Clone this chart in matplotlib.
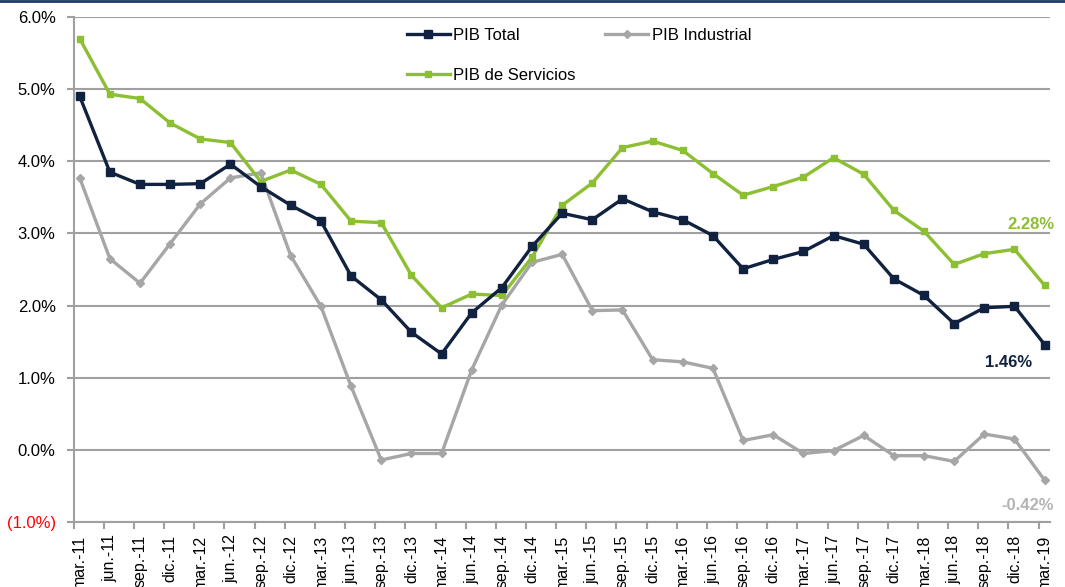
import numpy as np
import matplotlib
matplotlib.use("Agg")
import matplotlib.pyplot as plt
from matplotlib.ticker import FixedLocator

plt.rcParams['font.family'] = ['Liberation Sans', 'DejaVu Sans']

# Quarter labels
periods = ["mar.-11", "jun.-11", "sep.-11", "dic.-11",
           "mar.-12", "jun.-12", "sep.-12", "dic.-12",
           "mar.-13", "jun.-13", "sep.-13", "dic.-13",
           "mar.-14", "jun.-14", "sep.-14", "dic.-14",
           "mar.-15", "jun.-15", "sep.-15", "dic.-15",
           "mar.-16", "jun.-16", "sep.-16", "dic.-16",
           "mar.-17", "jun.-17", "sep.-17", "dic.-17",
           "mar.-18", "jun.-18", "sep.-18", "dic.-18",
           "mar.-19"]

# Annual growth (%)
pib_total = [4.90, 3.85, 3.68, 3.68, 3.69, 3.96, 3.65, 3.39,
             3.17, 2.41, 2.08, 1.63, 1.33, 1.90, 2.25, 2.82,
             3.28, 3.19, 3.48, 3.30, 3.19, 2.97, 2.51, 2.64,
             2.75, 2.97, 2.85, 2.37, 2.14, 1.75, 1.97, 1.99,
             1.46]
pib_industrial = [3.77, 2.65, 2.31, 2.86, 3.41, 3.77, 3.84, 2.69,
                  1.99, 0.88, -0.14, -0.05, -0.05, 1.11, 2.01, 2.60,
                  2.71, 1.93, 1.94, 1.25, 1.22, 1.13, 0.13, 0.21,
                  -0.05, -0.01, 0.20, -0.08, -0.08, -0.16, 0.22, 0.15,
                  -0.42]
pib_servicios = [5.70, 4.93, 4.87, 4.53, 4.31, 4.26, 3.72, 3.88,
                 3.68, 3.17, 3.15, 2.42, 1.97, 2.16, 2.14, 2.67,
                 3.39, 3.70, 4.19, 4.28, 4.15, 3.83, 3.53, 3.65,
                 3.78, 4.05, 3.82, 3.32, 3.03, 2.57, 2.72, 2.78,
                 2.28]

yticks = [-1, 0, 1, 2, 3, 4, 5, 6]
ytick_labels = ["(1.0%)", "0.0%", "1.0%", "2.0%", "3.0%", "4.0%", "5.0%", "6.0%"]

navy = "#112240"
gray = "#a6a6a6"
green = "#8cbf32"
gridc = "#a0a0a0"

x = np.arange(len(periods))

fig = plt.figure(figsize=(10.65, 5.87), dpi=100)
ax = fig.add_axes([0.0692, 0.1107, 0.9165, 0.8603])

ax.plot(x, pib_total, color=navy, lw=2.4, marker="s", ms=6, label="PIB Total", zorder=4)
ax.plot(x, pib_servicios, color=green, lw=2.4, marker="s", ms=5, label="PIB de Servicios", zorder=3)
ax.plot(x, pib_industrial, color=gray, lw=2.4, marker="D", ms=4, label="PIB Industrial", zorder=2)

ax.set_ylim(-1, 6)
ax.set_xlim(-0.2, 32.17)
ax.set_yticks(yticks)
ax.set_yticklabels(ytick_labels, fontsize=12)
ax.get_yticklabels()[0].set_color("red")
ax.yaxis.grid(True, color=gridc, lw=1.5)
ax.set_axisbelow(True)

ax.set_xticks(x)
ax.set_xticklabels(periods, rotation=90, fontsize=11.5, va="top")
ax.xaxis.set_minor_locator(FixedLocator(x - 0.2))
ax.tick_params(axis="x", which="major", length=0, pad=9)
ax.tick_params(axis="x", which="minor", length=5, width=1.5, color=gridc)
ax.tick_params(axis="y", length=5, width=1.5, color=gridc, pad=8)

for s in ["top", "right"]:
    ax.spines[s].set_visible(False)
for s in ["left", "bottom"]:
    ax.spines[s].set_color(gridc)
    ax.spines[s].set_linewidth(1.5)

# end labels (offsets in points)
ax.annotate(f"{pib_servicios[-1]:.2f}%", (x[-1], pib_servicios[-1]), xytext=(7, 44),
            textcoords="offset points", ha="right", va="center",
            color=green, fontsize=12, fontweight="bold")
ax.annotate(f"{pib_total[-1]:.2f}%", (x[-1], pib_total[-1]), xytext=(-9, -13),
            textcoords="offset points", ha="right", va="center",
            color=navy, fontsize=12, fontweight="bold")
ax.annotate(f"{pib_industrial[-1]:.2f}%", (x[-1], pib_industrial[-1]), xytext=(7, -18),
            textcoords="offset points", ha="right", va="center",
            color="#b4b4b4", fontsize=12, fontweight="bold")

h, l = ax.get_legend_handles_labels()
ax.legend([h[0], h[1], h[2]], [l[0], l[1], l[2]], ncol=2, loc="upper left",
          bbox_to_anchor=(0.341, 0.978), frameon=False, fontsize=12,
          borderpad=0, borderaxespad=0, handlelength=2.6, handletextpad=0.2,
          labelspacing=1.5, columnspacing=1.75)

# top border line
fig.add_artist(plt.Line2D([0, 1], [0.999, 0.999], color="#1f3a68", lw=2))

fig.savefig("out.png", dpi=100)
